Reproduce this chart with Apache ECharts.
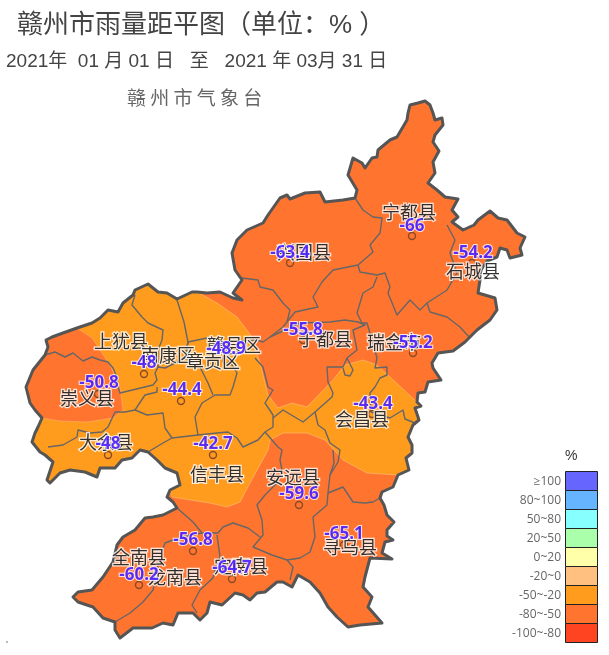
<!DOCTYPE html>
<html>
<head>
<meta charset="utf-8">
<style>
html, body { margin: 0; padding: 0; background: #fff; }
#main { width: 609px; height: 655px; }
</style>
<script src="https://cdn.jsdelivr.net/npm/echarts@6/dist/echarts.min.js"></script>
</head>
<body>
<div id="main"></div>
<script>
// map geometry (x, y in picture units)
const outline = [[418,103],[425,101],[430,105],[433,113],[435,120],[442,118],[443,125],[435,135],[433,142],[439,151],[433,162],[435,173],[428,183],[437,190],[445,197],[458,199],[452,210],[458,217],[452,222],[463,230],[474,225],[478,220],[490,211],[498,218],[507,220],[517,233],[525,237],[520,248],[522,255],[510,258],[507,250],[500,248],[497,257],[487,261],[481,270],[480,280],[478,293],[495,298],[497,310],[490,320],[477,330],[465,342],[453,351],[438,353],[432,363],[433,368],[441,380],[428,382],[425,392],[418,393],[417,402],[421,406],[415,408],[419,420],[413,425],[408,437],[412,445],[412,453],[406,458],[409,470],[398,475],[393,487],[382,492],[380,498],[384,505],[387,515],[394,522],[387,530],[387,536],[393,540],[385,542],[382,553],[392,559],[370,558],[365,577],[363,587],[372,597],[368,607],[382,623],[360,625],[348,627],[337,617],[328,607],[320,593],[310,582],[298,575],[292,587],[283,582],[277,582],[265,592],[257,593],[250,600],[243,595],[235,593],[222,605],[210,602],[207,613],[200,620],[193,613],[178,613],[173,625],[163,623],[152,628],[133,628],[120,638],[115,630],[115,622],[103,618],[93,607],[78,602],[73,597],[78,592],[92,590],[103,577],[113,562],[117,545],[123,537],[135,530],[145,518],[153,517],[163,515],[177,508],[173,502],[167,497],[170,490],[180,485],[177,473],[165,468],[157,460],[148,452],[140,450],[132,458],[122,460],[115,468],[100,468],[97,477],[85,472],[70,470],[60,473],[50,483],[47,480],[53,462],[45,455],[40,452],[32,442],[35,433],[38,427],[42,418],[35,410],[30,403],[26,387],[33,370],[45,355],[48,347],[46,340],[52,337],[63,333],[77,328],[92,323],[100,318],[108,310],[118,312],[123,303],[133,295],[135,290],[148,284],[158,292],[167,293],[177,299],[192,292],[197,292],[207,293],[220,292],[233,298],[242,300],[233,293],[242,280],[235,270],[232,253],[237,240],[247,230],[263,223],[268,215],[280,198],[287,195],[290,199],[305,193],[320,192],[325,202],[343,200],[355,198],[357,190],[348,175],[353,158],[362,163],[365,168],[372,158],[377,157],[378,150],[390,140],[397,137],[407,120],[408,113],[410,105]];

// county borders
const borders = [
  [[355,198],[363,210],[373,217],[382,218],[380,233],[370,245],[373,252],[358,265],[333,270],[322,282],[313,297],[318,307],[295,312],[287,322],[283,327],[270,337],[263,342],[257,340],[223,342],[207,338],[188,342]],
  [[242,278],[258,280],[260,287],[273,290],[283,303],[290,310],[287,322]],
  [[358,265],[360,272],[377,275],[385,273],[390,287],[388,293],[397,315],[410,300],[420,310],[427,303],[447,290],[457,273],[450,253],[455,240],[447,225]],
  [[377,277],[373,287],[363,293],[357,313],[362,323],[367,323],[372,340],[377,358],[375,368],[387,367],[387,375],[380,378],[375,387],[370,393],[371,412],[390,418],[403,410],[405,419],[415,423]],
  [[427,303],[430,312],[447,317],[460,327],[470,338]],
  [[270,337],[285,330],[300,323],[330,322],[345,320],[358,322],[365,325],[353,330],[357,350],[347,358],[343,367],[327,367],[328,382],[333,393],[332,397],[315,412],[318,425],[325,430],[330,443],[340,450],[338,462],[330,475],[328,493],[327,505],[313,517],[315,537],[310,552],[300,558],[287,560]],
  [[343,368],[345,375],[350,376],[353,370],[347,358]],
  [[255,358],[263,367],[268,387],[273,390],[265,403],[273,415],[273,427],[265,432],[258,440],[243,447],[237,438],[228,432],[217,433],[198,435],[195,417],[202,403],[215,395],[230,395],[233,387],[237,373],[232,365],[223,342]],
  [[273,418],[283,410],[303,422],[315,412]],
  [[265,432],[278,447],[282,450],[280,460],[282,470],[277,483],[265,495],[257,505],[262,520],[263,535],[253,547],[272,555],[287,560],[293,567],[290,580]],
  [[328,493],[343,487],[353,502],[365,503],[373,502],[380,498]],
  [[330,475],[334,463],[333,450]],
  [[177,508],[193,522],[202,533],[218,533],[223,527],[233,523],[248,528],[260,537]],
  [[217,535],[220,557],[217,563],[213,578],[200,590],[192,605],[197,613]],
  [[202,533],[190,535],[173,540],[165,543],[160,557],[157,570],[155,583],[153,590],[143,602],[130,613],[115,622]],
  [[45,355],[55,352],[65,357],[73,353],[83,361],[92,357],[100,360],[108,362],[113,368],[117,377],[118,387],[120,393],[153,385],[157,380],[155,373],[158,367],[165,368],[185,358],[188,342],[184,322],[177,300]],
  [[135,295],[132,305],[142,317],[148,323],[163,330],[162,340],[158,350],[158,367]],
  [[157,387],[157,392],[145,395],[135,410],[125,412],[115,412],[108,427],[102,432],[90,433],[78,430],[77,437],[63,445],[48,447]],
  [[135,410],[147,415],[163,413],[165,428],[172,438],[198,435]],
  [[148,452],[163,443],[172,438]],
  [[188,342],[185,358],[200,367],[208,383],[213,395]]
];

// rainfall bands: -50~-20 across the west and east, -80~-50 again around Chongyi
const bandWestEdge = [[217,303],[237,317],[252,337],[260,363],[268,395],[278,408],[292,403],[307,407],[333,380],[345,365],[363,360],[377,365]];
const bandSouthEdge = [[367,473],[343,460],[325,440],[307,433],[283,433],[270,440],[268,450],[250,483],[240,502],[227,507],[210,503],[172,497]];
const chongyiEdge = [[92,338],[102,353],[110,365],[120,387],[123,410],[113,418],[87,422],[60,421]];

// stations
const stationNames = ['宁都县','兴国县','石城县','瑞金市','于都县','赣县区','上犹县','南康区','崇义县','大余县','信丰县','会昌县','安远县','寻乌县','全南县','龙南县','定南县','章贡区'];
const stationValues = [-66,-63.4,-54.2,-55.2,-55.8,-48.9,-48,-44.4,-50.8,-48,-42.7,-43.4,-59.6,-65.1,-60.2,-56.8,-64.7];
const stationSpots = [[412,236],[290,263],[472,263],[413,353],[303,340],[226,360],[144,374],[181,401],[98,394],[108,455],[213,455],[372,414],[299,505],[344,545],[139,585],[193,551],[232,579]];
const valueSpots = [[412,226],[290,253],[473,253],[413,343],[303,330],[226,349],[144,363],[182,390],[99,383],[108,444],[213,444],[373,404],[299,494],[344,534],[139,575],[193,540],[232,568]];
const nameSpots = [[409,212],[304,252],[473,271],[394,342],[325,339],[234,345],[121,341],[168,355],[87,398],[106,442],[217,474],[362,419],[293,477],[350,547],[139,557],[175,577],[241,566],[213,361]];

// legend
const legendLabels = ['≥100','80~100','50~80','20~50','0~20','-20~0','-50~-20','-80~-50','-100~-80'];
const legendColors = ['#6666ff','#66b3ff','#88ffff','#aaffaa','#ffffaa','#ffc080','#ff9c1e','#ff7530','#ff4422'];

const BAND_DARK = legendColors[7];
const BAND_MID = legendColors[6];
const CJK_FONT = '"Noto Sans CJK SC", sans-serif';
const MIXED_FONT = '"Liberation Sans","Noto Sans CJK SC",sans-serif';

function outlineSection(from, to) {
  const n = outline.length;
  const same = (p, q) => p[0] === q[0] && p[1] === q[1];
  let i = outline.findIndex(p => same(p, from));
  const out = [outline[i]];
  while (!same(outline[i], to)) {
    i = (i + 1) % n;
    out.push(outline[i]);
  }
  return out;
}

const bandMid = [].concat(
  outlineSection([170,490], [197,292]),
  bandWestEdge,
  outlineSection([417,402], [398,475]),
  bandSouthEdge
);
const bandChongyi = [].concat(outlineSection([42,418], [77,328]), chongyiEdge);

// fills first, then county lines, then the thick outer border
const shapes = [
  { points: outline, fill: BAND_DARK },
  { points: bandMid, fill: BAND_MID, stroke: '#ffc27a', width: 0.6 },
  { points: bandChongyi, fill: BAND_DARK, stroke: '#ffb070', width: 0.6 }
];

function renderShape(params, api) {
  const s = shapes[api.value(0)];
  return {
    type: 'polygon',
    shape: { points: s.points.map(p => api.coord(p)) },
    style: { fill: s.fill, stroke: s.stroke || null, lineWidth: s.width || 0 }
  };
}

function renderBorder(params, api) {
  return {
    type: 'polyline',
    shape: { points: borders[api.value(0)].map(p => api.coord(p)) },
    style: { fill: null, stroke: '#666', lineWidth: 1.4, lineJoin: 'round' }
  };
}

function renderFrame(params, api) {
  return {
    type: 'polygon',
    shape: { points: outline.map(p => api.coord(p)) },
    style: { fill: null, stroke: '#555', lineWidth: 3, lineJoin: 'round' }
  };
}

function renderLegend(params, api) {
  const i = api.value(0);
  const h = 19;
  const p = api.coord([565, 471 + i * h]);
  const size = api.size([32, h]);
  return {
    type: 'group',
    children: [
      {
        type: 'rect',
        shape: { x: p[0] + 0.5, y: p[1] + 0.5, width: size[0], height: size[1] },
        style: { fill: legendColors[i], stroke: '#222', lineWidth: 1 }
      },
      {
        type: 'text',
        style: {
          x: p[0] - 4, y: p[1] + size[1] / 2 + 1,
          text: legendLabels[i], align: 'right', verticalAlign: 'middle',
          fill: '#666', font: '12px "Open Sans", sans-serif'
        }
      }
    ]
  };
}

const chart = echarts.init(document.getElementById('main'));
chart.setOption({
  animation: false,
  title: [
    { text: '赣州市雨量距平图（单位：% ）', left: 12, top: 8, textStyle: { fontSize: 26, fontWeight: 'normal', color: '#444', fontFamily: MIXED_FONT } },
    { text: '2021年  01 月 01 日   至   2021 年 03月 31 日', left: 1, top: 47, textStyle: { fontSize: 19, fontWeight: 'normal', color: '#444', fontFamily: MIXED_FONT } },
    { text: '赣 州 市 气 象 台', left: 122, top: 83, textStyle: { fontSize: 19, fontWeight: 'normal', color: '#666', fontFamily: CJK_FONT } },
    { text: '%', left: 560, top: 444, textStyle: { fontSize: 14, fontWeight: 'normal', color: '#333', fontFamily: '"Liberation Sans",sans-serif' } }
  ],
  graphic: [{ type: 'rect', shape: { x: 6, y: 641, width: 2, height: 2 }, style: { fill: '#bbb' } }],
  grid: { left: 0, right: 0, top: 0, bottom: 0 },
  xAxis: { type: 'value', min: 0, max: 609, show: false },
  yAxis: { type: 'value', min: 0, max: 655, inverse: true, show: false },
  series: [
    { type: 'custom', coordinateSystem: 'cartesian2d', renderItem: renderShape, data: shapes.map((s, i) => [i]), encode: { x: [], y: [] }, clip: false, silent: true, z: 1 },
    { type: 'custom', coordinateSystem: 'cartesian2d', renderItem: renderBorder, data: borders.map((b, i) => [i]), encode: { x: [], y: [] }, clip: false, silent: true, z: 2 },
    { type: 'custom', coordinateSystem: 'cartesian2d', renderItem: renderFrame, data: [[0]], encode: { x: [], y: [] }, clip: false, silent: true, z: 3 },
    {
      type: 'scatter', z: 4, silent: true, symbol: 'circle', symbolSize: 7,
      itemStyle: { color: 'rgba(0,0,0,0)', borderColor: '#8a4a24', borderWidth: 1.4, opacity: 1 },
      data: stationSpots
    },
    {
      type: 'scatter', z: 5, silent: true, symbolSize: 1, itemStyle: { color: 'rgba(0,0,0,0)' },
      label: { show: true, position: 'inside', formatter: p => p.name, fontSize: 18, color: '#000', fontFamily: CJK_FONT, textBorderColor: '#fff', textBorderWidth: 2.5 },
      data: stationNames.map((name, i) => ({ name, value: nameSpots[i] }))
    },
    {
      type: 'scatter', z: 6, silent: true, symbolSize: 1, itemStyle: { color: 'rgba(0,0,0,0)' },
      label: { show: true, position: 'inside', formatter: p => String(p.data.v), fontSize: 17, fontWeight: 'bold', color: '#3300ff', fontFamily: '"Noto Sans",sans-serif', textBorderColor: '#fff', textBorderWidth: 2 },
      data: stationValues.map((v, i) => ({ v, value: valueSpots[i] }))
    },
    { type: 'custom', coordinateSystem: 'cartesian2d', renderItem: renderLegend, data: legendLabels.map((l, i) => [i]), encode: { x: [], y: [] }, clip: false, silent: true, z: 7 }
  ]
});
window.addEventListener('resize', () => chart.resize());
</script>
</body>
</html>
